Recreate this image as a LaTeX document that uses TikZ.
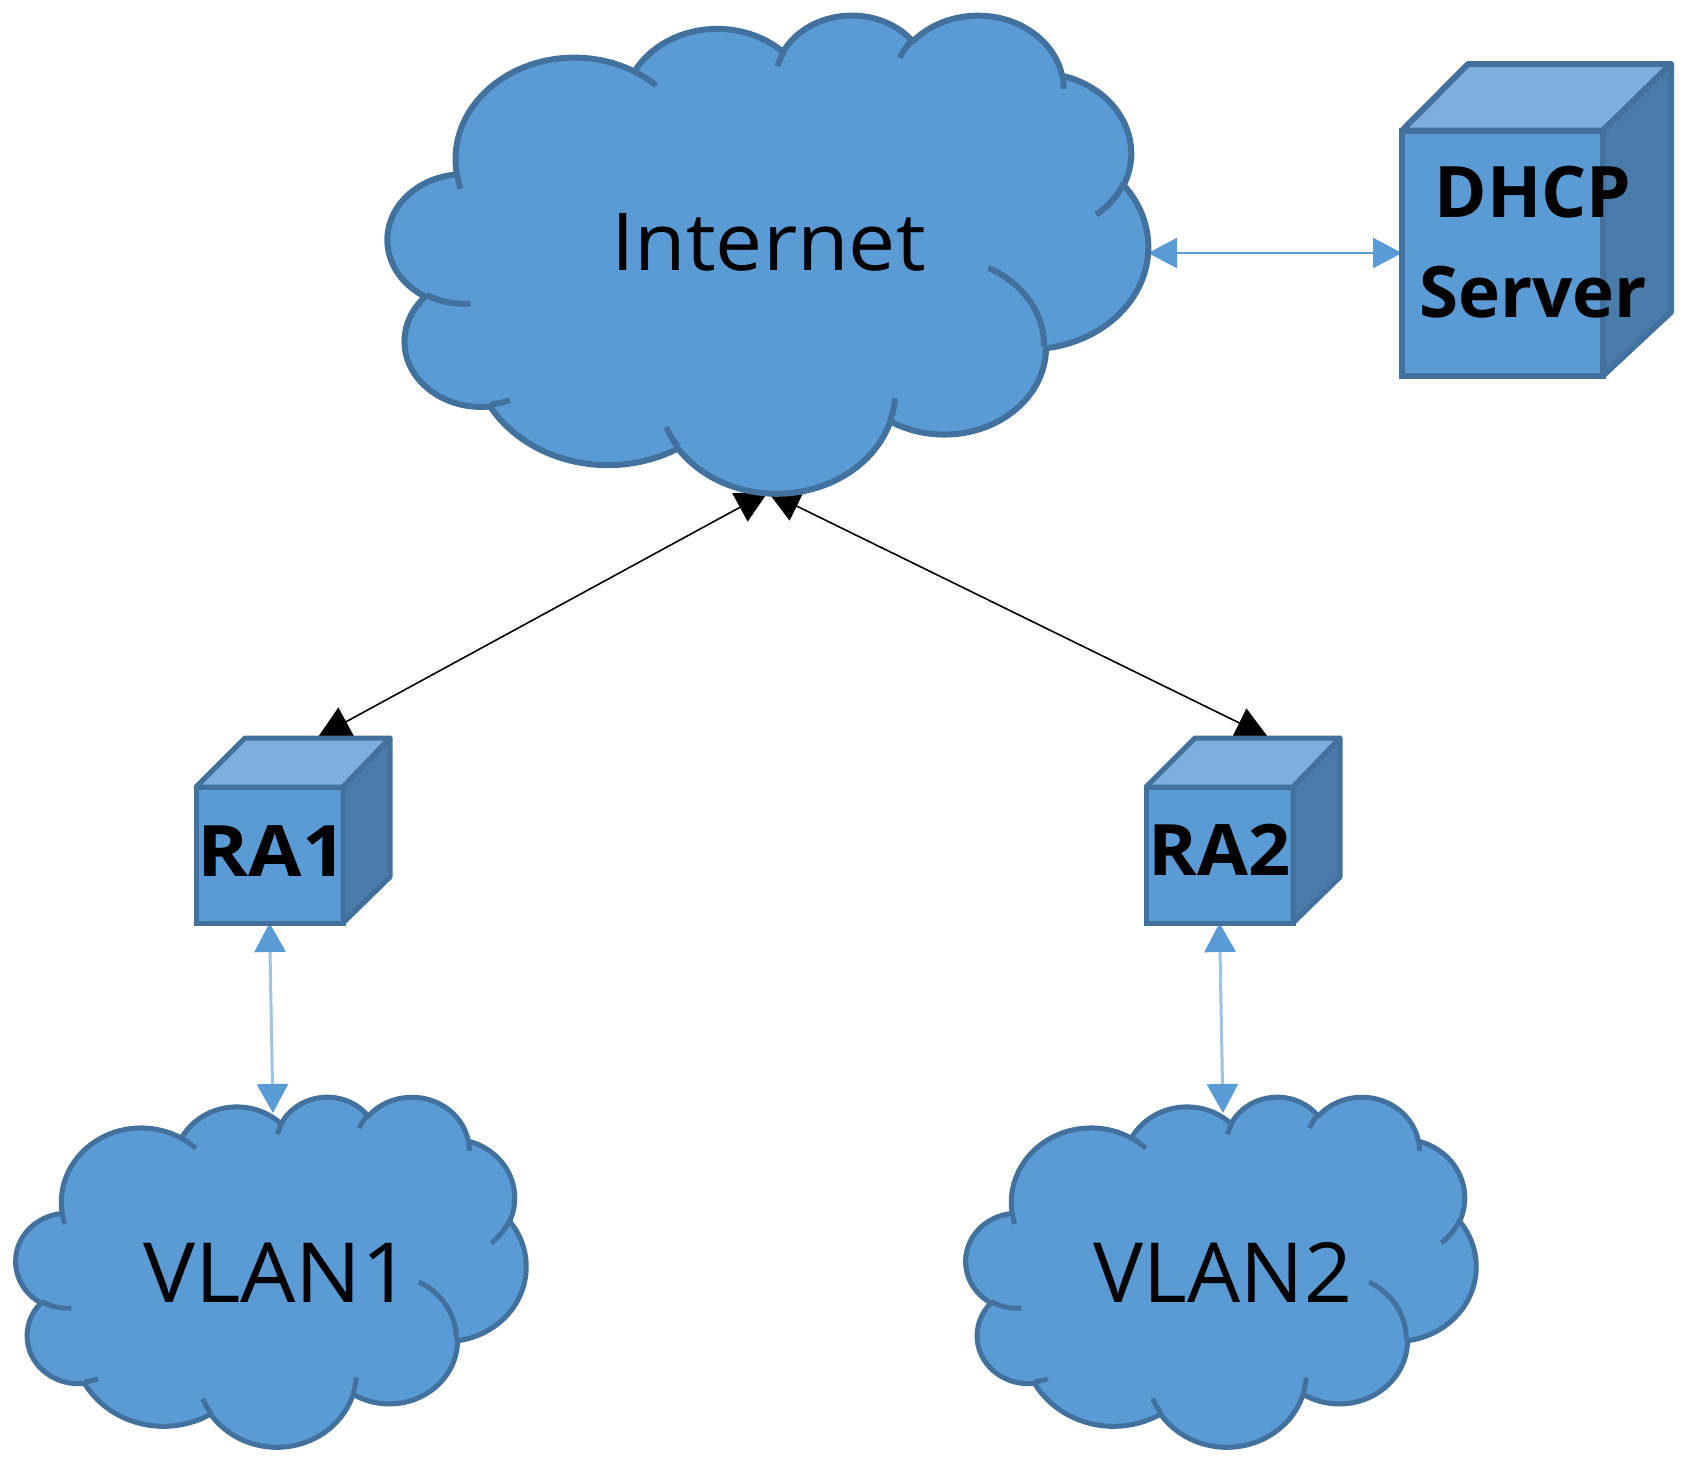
\documentclass[tikz,border=0pt]{standalone}
\usepackage{fontspec}
\setmainfont{Open Sans}
\usetikzlibrary{arrows.meta,backgrounds}

\definecolor{boxfill}{HTML}{5B9BD5}
\definecolor{boxline}{HTML}{41719C}
\definecolor{boxtop}{HTML}{7CAFDD}
\definecolor{boxside}{HTML}{497CAA}
\definecolor{linkpale}{HTML}{9DC3E6}

% arc given the way the cloud outline is usually specified (visual angles)
\newcommand{\cloudarc}[4]{arc[x radius=#1,y radius=#2,start angle={atan2(#1*sin(#3),#2*cos(#3))},delta angle={mod(atan2(#1*sin(#3+#4),#2*cos(#3+#4))-atan2(#1*sin(#3),#2*cos(#3))+720,360)}]}
% #1,#2 top left, #3,#4 unit per 1/43.2 of the box, #5 line width
\newcommand{\netcloud}[5]{%
  \begin{scope}[shift={(#1,#2)},x=#3pt,y=-#4pt,line width=#5pt,line join=round,draw=boxline]
    \filldraw[fill=boxfill] (3.9,14.37)
      \cloudarc{6.753}{9.19}{-190.4875}{123.7805}
      \cloudarc{5.333}{7.267}{-144.1024}{89.9452}
      \cloudarc{4.365}{5.945}{-145.8079}{99.723}
      \cloudarc{4.857}{6.595}{-130.9861}{117.2417}
      \cloudarc{5.333}{7.273}{-78.7089}{109.0311}
      \cloudarc{6.775}{9.22}{-46.2673}{130.269}
      \cloudarc{5.785}{7.867}{0.625}{114.0333}
      \cloudarc{6.752}{9.215}{22.4516}{115.1726}
      \cloudarc{7.72}{10.543}{66.2426}{75.711}
      \cloudarc{4.36}{5.918}{-274.9421}{146.7356}
      \cloudarc{4.345}{5.945}{-246.8285}{152.5189} -- cycle;
    \draw (4.693,26.177) \cloudarc{4.345}{5.945}{86.742}{26.43};
    \draw (6.928,34.899) \cloudarc{4.36}{5.918}{73.61}{11.45};
    \draw (16.478,39.09) \cloudarc{6.752}{9.215}{137.63}{14.08};
    \draw (28.827,34.751) \cloudarc{6.752}{9.215}{6.46}{16};
    \draw (34.129,22.954) \cloudarc{5.785}{7.867}{-69.5}{70.1};
    \draw (41.798,15.354) \cloudarc{5.333}{7.273}{30.32}{29};
    \draw (38.324,5.426) \cloudarc{4.857}{6.595}{-13.74}{15.8};
    \draw (29.078,3.952) \cloudarc{4.857}{6.595}{-149.7}{18.7};
    \draw (22.141,4.72) \cloudarc{4.365}{5.945}{-161.2}{15.4};
    \draw (14,5.192) \cloudarc{6.753}{9.19}{-66.7}{11.6};
    \draw (4.127,15.789) \cloudarc{6.753}{9.19}{157.7}{11.8};
  \end{scope}}

\tikzset{
  front/.style={rectangle,fill=boxfill,draw=boxline,inner sep=0pt,outer sep=0pt},
  face/.style={draw=boxline,line join=round},
  area/.style={rectangle,inner sep=0pt,outer sep=0pt},
  bigtext/.style={anchor=base,inner sep=0pt,font=\fontsize{#1}{#1}\selectfont},
  boldtext/.style={anchor=base,inner sep=0pt,align=center,font=\fontsize{#1}{#1}\selectfont\bfseries},
  uplink/.style={line width=1.6pt,black,{Triangle[length=32pt,width=32pt]}-{Triangle[length=32pt,width=32pt]}},
  hlink/.style={line width=2.5pt,color=boxfill,{Triangle[length=29pt,width=30pt]}-{Triangle[length=29pt,width=30pt]}},
  vlink/.style={line width=3pt,color=linkpale,{Triangle[length=29pt,width=31pt,color=boxfill]}-{Triangle[length=29pt,width=31pt,color=boxfill]}},
}

\begin{document}
\begin{tikzpicture}[x=1pt,y=-1pt]
\useasboundingbox (0,0) rectangle (1688,1460);

% areas used as connector ends
\node (internet) [area,minimum width=760pt,minimum height=478pt] at (768,253) {};
\coordinate (vlan1top) at (273,1113);
\coordinate (vlan2top) at (1223,1113);
\coordinate (ra1top) at (318,737);
\coordinate (ra2top) at (1268,737);

% boxes
\node (dhcp) [front,line width=6pt,minimum width=201pt,minimum height=245pt] at (1502.5,253) {};
\node (ra1) [front,line width=5pt,minimum width=147pt,minimum height=136pt] at (269.5,855) {};
\node (ra2) [front,line width=5pt,minimum width=147pt,minimum height=136pt] at (1219.5,855) {};

% tops and sides
\filldraw[face,fill=boxtop,line width=6pt] (dhcp.north west) -- (1468,64) -- (1671,64) -- (dhcp.north east) -- cycle;
\filldraw[face,fill=boxside,line width=6pt] (dhcp.north east) -- (1671,64) -- (1671,312) -- (dhcp.south east) -- cycle;
\filldraw[face,fill=boxtop,line width=5pt] (ra1.north west) -- (245,738) -- (390,738) -- (ra1.north east) -- cycle;
\filldraw[face,fill=boxside,line width=5pt] (ra1.north east) -- (390,738) -- (390,877) -- (ra1.south east) -- cycle;
\filldraw[face,fill=boxtop,line width=5pt] (ra2.north west) -- (1195,738) -- (1340,738) -- (ra2.north east) -- cycle;
\filldraw[face,fill=boxside,line width=5pt] (ra2.north east) -- (1340,738) -- (1340,877) -- (ra2.south east) -- cycle;

% clouds
\netcloud{388}{14}{17.593}{11.065}{6}
\netcloud{16}{1096}{11.806}{8.102}{5}
\netcloud{966}{1096}{11.806}{8.102}{5}

% texts
\node (internetlabel) [bigtext=80pt] at (768.5,270) {\scalebox{1.05}[1]{Internet}};
\node (vlan1label) [bigtext=83pt] at (277.5,1302.5) {\scalebox{1.053}[1]{VLAN1}};
\node (vlan2label) [bigtext=83pt] at (1223,1302.5) {\scalebox{1.012}[1]{VLAN2}};
\node (dhcplabel) [boldtext=71pt,anchor=center] at (1533,242) {DHCP\\[29pt]Server};
\node (ra1label) [boldtext=71pt] at (272,876) {\scalebox{1.09}[1]{RA1}};
\node (ra2label) [boldtext=71pt] at (1219.5,875) {\scalebox{1.04}[1]{RA2}};

% connectors, under the shapes
\begin{scope}[on background layer]
\draw[uplink] (ra1top) -- (internet.south);
\draw[uplink] (ra2top) -- (internet.south);
\draw[hlink] (internet.east) -- (dhcp.west);
\draw[vlink] (ra1.south) -- (vlan1top);
\draw[vlink] (ra2.south) -- (vlan2top);
\end{scope}
\end{tikzpicture}
\end{document}
